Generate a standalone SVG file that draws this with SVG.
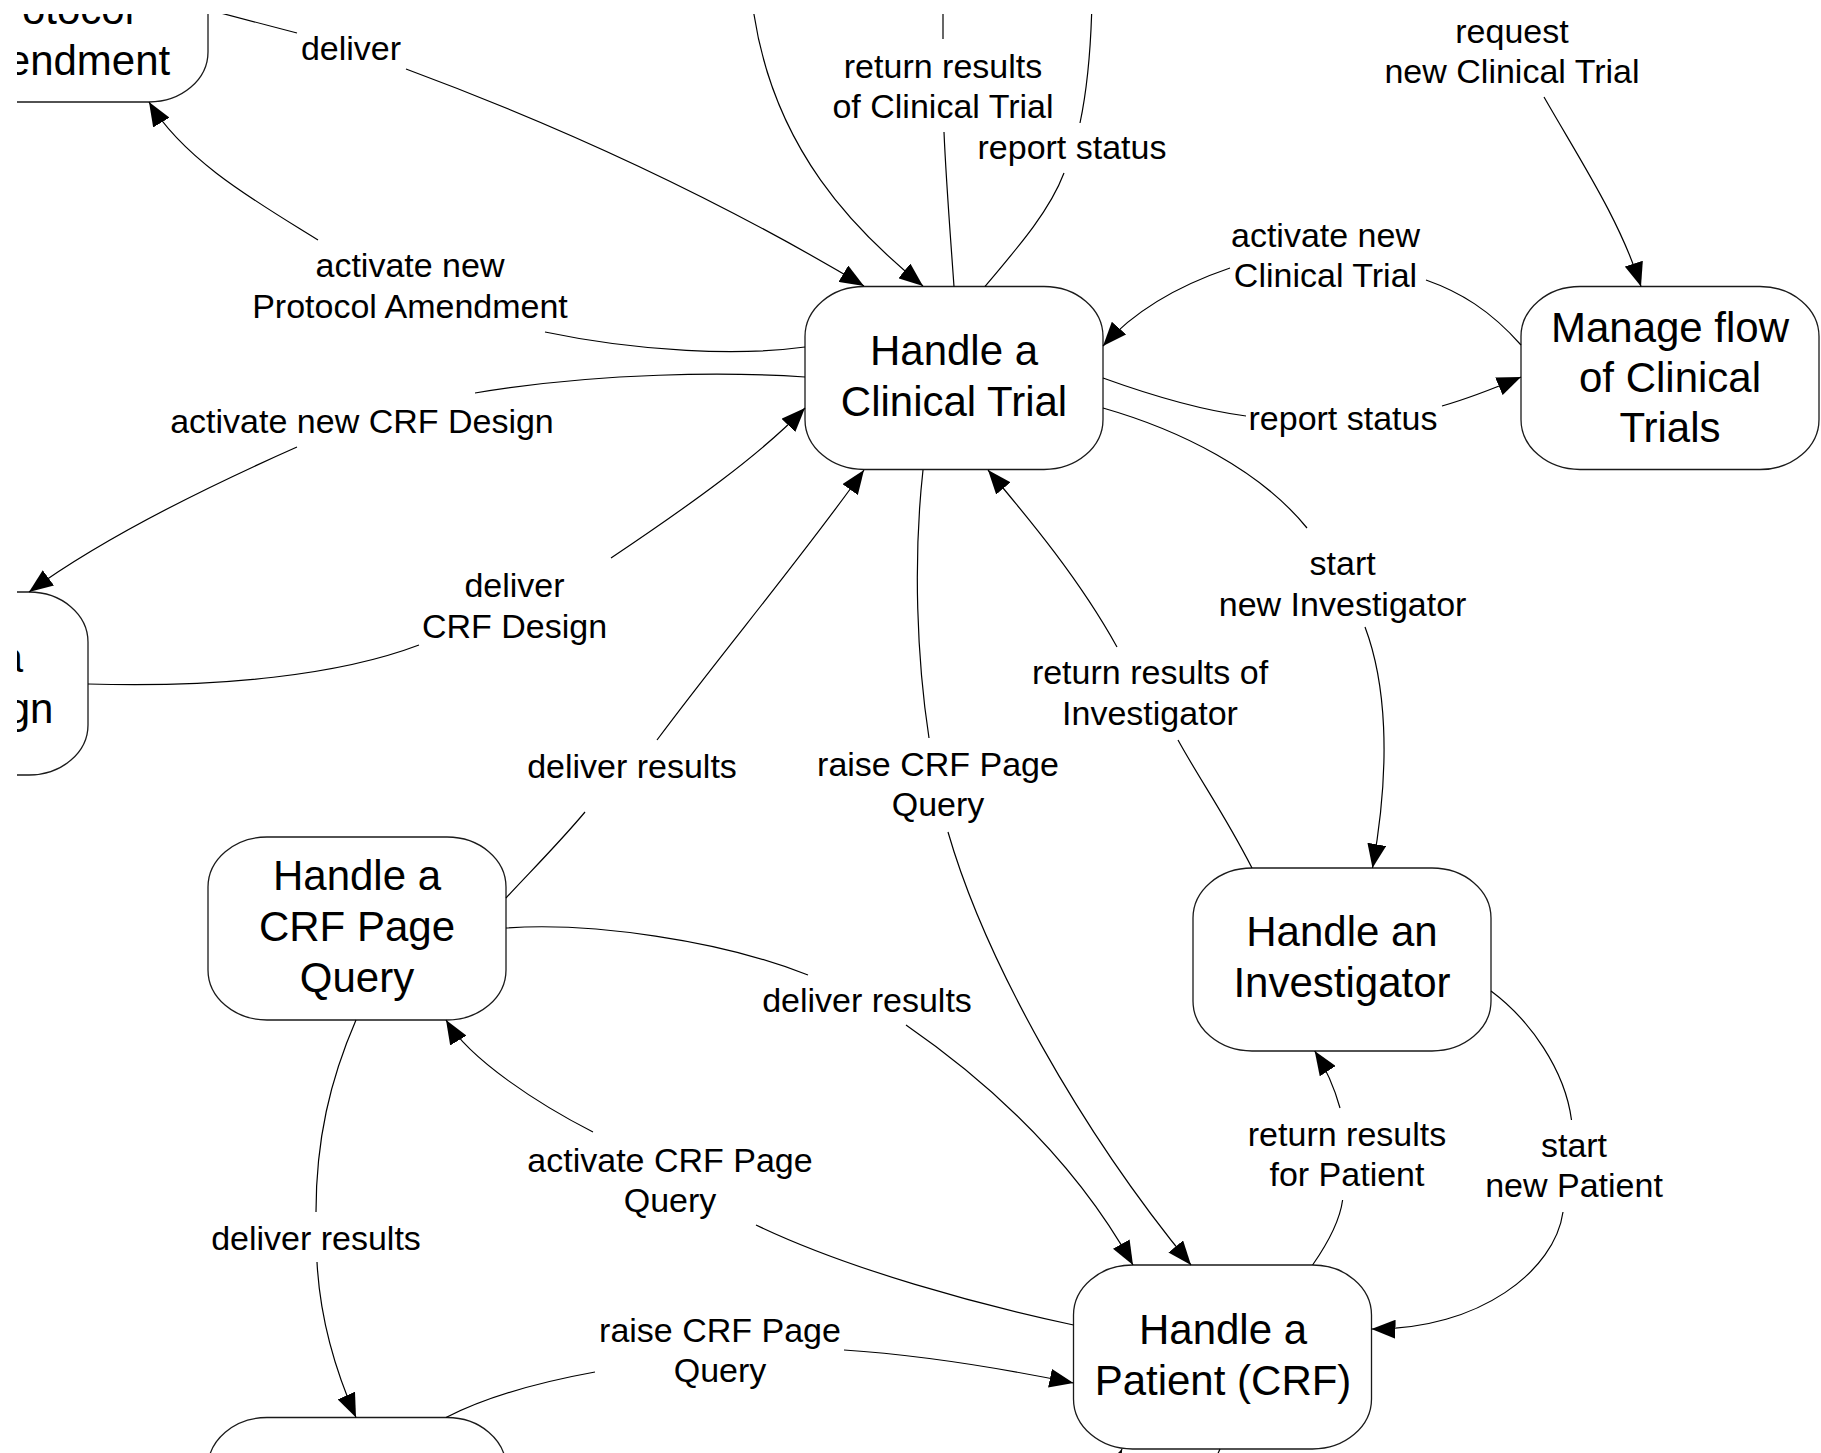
<svg xmlns="http://www.w3.org/2000/svg" width="1821" height="1453" viewBox="0 0 1821 1453">
<defs>
<style>
.node rect{fill:#fff;stroke:#1a1a1a;stroke-width:1.3}
.node text{font-family:"Liberation Sans",Arial,sans-serif;font-size:42px;text-anchor:middle;fill:#000}
.lbl{font-family:"Liberation Sans",Arial,sans-serif;font-size:34px;text-anchor:middle;fill:#000}
.edge{fill:none;stroke:#000;stroke-width:1.2}
.arr{marker-end:url(#arrow)}
</style>
<marker id="arrow" viewBox="0 0 24 19" refX="24" refY="9.5" markerWidth="24" markerHeight="19" orient="auto" markerUnits="userSpaceOnUse">
<path d="M0,0 L24,9.5 L0,19 z" fill="#000"/>
</marker>
<clipPath id="frame"><rect x="17" y="14" width="1804" height="1439"/></clipPath>
</defs>
<rect x="0" y="0" width="1821" height="1453" fill="#fff"/>
<g clip-path="url(#frame)">
<g id="nodes">
<g id="node-protocol-amendment" class="node"><rect x="-90" y="-80" width="298" height="182" rx="59" ry="50"/><text x="57" y="24">Protocol</text><text x="57" y="75">Amendment</text></g>
<g id="node-crf-design" class="node"><rect x="-210" y="592" width="298" height="183" rx="59" ry="50"/><text x="-61" y="672">Handle a</text><text x="-61" y="723">CRF Design</text></g>
<g id="node-clinical-trial" class="node"><rect x="805" y="286.5" width="298" height="183" rx="59" ry="50"/><text x="954" y="365">Handle a</text><text x="954" y="416">Clinical Trial</text></g>
<g id="node-manage-flow" class="node"><rect x="1521" y="286.5" width="298" height="183" rx="59" ry="50"/><text x="1670" y="342">Manage flow</text><text x="1670" y="392">of Clinical</text><text x="1670" y="442">Trials</text></g>
<g id="node-crf-page-query" class="node"><rect x="208" y="837" width="298" height="183" rx="59" ry="50"/><text x="357" y="890">Handle a</text><text x="357" y="941">CRF Page</text><text x="357" y="992">Query</text></g>
<g id="node-investigator" class="node"><rect x="1193" y="868" width="298" height="183" rx="59" ry="50"/><text x="1342" y="946">Handle an</text><text x="1342" y="997">Investigator</text></g>
<g id="node-patient" class="node"><rect x="1073.5" y="1265" width="298" height="184" rx="59" ry="50"/><text x="1223" y="1344">Handle a</text><text x="1223" y="1395">Patient (CRF)</text></g>
<g id="node-bottom-left" class="node"><rect x="208" y="1417.5" width="298" height="183" rx="59" ry="50"/></g>
</g>
<g id="connectors">
<path class="edge" d="M190,5 L297,33"/>
<path class="edge arr" d="M406,69 C560,126 720,200 864,286"/>
<path class="edge arr" d="M752,0 C770,150 860,235 923,286"/>
<path class="edge" d="M954,286.5 C950,230 946,180 944,132"/>
<path class="edge" d="M943,39 L943,0"/>
<path class="edge" d="M985,286.5 C1020,245 1050,210 1064,173"/>
<path class="edge" d="M1080,123 C1087,90 1091,50 1092,0"/>
<path class="edge" d="M805,347 C740,356 640,352 545,332"/>
<path class="edge arr" d="M318,240 C262,205 185,162 149,102"/>
<path class="edge" d="M805,377 C730,372 600,372 475,393"/>
<path class="edge arr" d="M297,447 C200,490 100,540 29,592"/>
<path class="edge" d="M88,684 C220,688 340,675 419,645"/>
<path class="edge arr" d="M611,558 C690,505 760,455 805,408"/>
<path class="edge" d="M506,898 C530,872 560,842 585,812"/>
<path class="edge arr" d="M657,740 C720,655 800,560 864,470"/>
<path class="edge" d="M923,470 C913,560 917,660 929,738"/>
<path class="edge arr" d="M948,832 C985,960 1080,1130 1191,1265"/>
<path class="edge" d="M1252,868 C1225,815 1200,780 1178,740"/>
<path class="edge arr" d="M1117,647 C1080,580 1030,520 988,470"/>
<path class="edge" d="M1103,408 C1180,430 1260,470 1307,528"/>
<path class="edge arr" d="M1365,627 C1385,680 1392,760 1372.5,868"/>
<path class="edge arr" d="M1544,97 C1580,160 1620,220 1641,286.5"/>
<path class="edge" d="M1521,345 C1490,310 1460,292 1426,280"/>
<path class="edge arr" d="M1230,268 C1180,285 1135,310 1103,346"/>
<path class="edge" d="M1103,378 C1150,395 1200,410 1246,416"/>
<path class="edge arr" d="M1442,406 C1470,398 1495,388 1521,377"/>
<path class="edge" d="M506,928 C590,922 720,940 808,975"/>
<path class="edge arr" d="M906,1025 C1000,1090 1080,1170 1133,1265"/>
<path class="edge" d="M1073.5,1325 C980,1305 850,1270 756,1225"/>
<path class="edge arr" d="M593,1132 C540,1105 470,1060 446,1020"/>
<path class="edge" d="M356,1020 C330,1080 316,1140 316,1212"/>
<path class="edge arr" d="M317,1262 C320,1320 335,1370 356,1417.5"/>
<path class="edge" d="M446,1417.5 C490,1395 540,1382 595,1372"/>
<path class="edge arr" d="M844,1350 C920,1355 1000,1368 1073.5,1383"/>
<path class="edge" d="M1312.6,1265 C1330,1240 1340,1220 1342.6,1200"/>
<path class="edge arr" d="M1340,1108 C1335,1090 1327,1070 1314.7,1051"/>
<path class="edge" d="M1491,991 C1530,1020 1565,1070 1571.5,1120"/>
<path class="edge arr" d="M1563,1212 C1555,1270 1480,1330 1371.5,1329"/>
<path class="edge arr" d="M1100,1500 L1122,1449"/>
<path class="edge" d="M1220,1449 L1206,1480"/>
</g>
<g id="labels">
<text class="lbl" x="351" y="60">deliver</text>
<text class="lbl" x="943" y="78">return results</text>
<text class="lbl" x="943" y="118">of Clinical Trial</text>
<text class="lbl" x="1072" y="159">report status</text>
<text class="lbl" x="1512" y="43">request</text>
<text class="lbl" x="1512" y="83">new Clinical Trial</text>
<text class="lbl" x="1325.5" y="247">activate new</text>
<text class="lbl" x="1325.5" y="287">Clinical Trial</text>
<text class="lbl" x="410" y="277">activate new</text>
<text class="lbl" x="410" y="318">Protocol Amendment</text>
<text class="lbl" x="362" y="433">activate new CRF Design</text>
<text class="lbl" x="1343" y="430">report status</text>
<text class="lbl" x="514.5" y="597">deliver</text>
<text class="lbl" x="514.5" y="638">CRF Design</text>
<text class="lbl" x="1342.6" y="575">start</text>
<text class="lbl" x="1342.6" y="616">new Investigator</text>
<text class="lbl" x="1150" y="684">return results of</text>
<text class="lbl" x="1150" y="725">Investigator</text>
<text class="lbl" x="632" y="778">deliver results</text>
<text class="lbl" x="938" y="776">raise CRF Page</text>
<text class="lbl" x="938" y="816">Query</text>
<text class="lbl" x="867" y="1012">deliver results</text>
<text class="lbl" x="670" y="1172">activate CRF Page</text>
<text class="lbl" x="670" y="1212">Query</text>
<text class="lbl" x="1347" y="1146">return results</text>
<text class="lbl" x="1347" y="1186">for Patient</text>
<text class="lbl" x="1574" y="1157">start</text>
<text class="lbl" x="1574" y="1197">new Patient</text>
<text class="lbl" x="316" y="1250">deliver results</text>
<text class="lbl" x="720" y="1342">raise CRF Page</text>
<text class="lbl" x="720" y="1382">Query</text>
</g>
</g>
</svg>
